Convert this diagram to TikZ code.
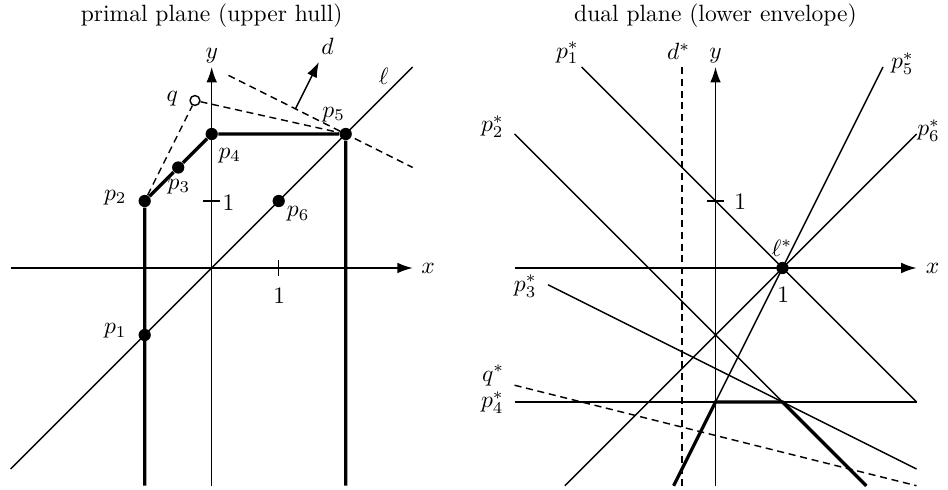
\documentclass[tikz,border=0pt]{standalone}
\usepackage{tikz}
\usetikzlibrary{positioning, arrows.meta}

\begin{document}
\begin{tikzpicture}[
  x=1cm, y=1cm,
  ln/.style={line width=0.6pt},
  hull/.style={line width=1.4pt},
  axis/.style={line width=0.6pt, -{Latex[length=6.5pt, width=4.5pt]}},
  dsh/.style={line width=0.6pt, dash pattern=on 3pt off 2pt},
  dir/.style={line width=0.6pt, -{Latex[length=6.5pt, width=4.5pt]}},
  pt/.style={circle, fill=black, minimum size=5.2pt, inner sep=0pt},
  opt/.style={circle, draw=black, fill=white, line width=0.6pt,
              minimum size=4.2pt, inner sep=0pt},
  lbl/.style={inner sep=0pt},
  ttl/.style={inner sep=0pt, font=\normalsize}]
  \useasboundingbox (-3.16,-3.30) rectangle (10.99,4.00);

  % primal plane
  \node[ttl] (ttlA) at (0,3.77) {primal plane (upper hull)};
  \coordinate (xa) at (-3,0);
  \coordinate (xb) at (3,0);
  \coordinate (ya) at (0,-3.25);
  \coordinate (yb) at (0,3);
  \draw[axis] (xa) -- (xb);
  \draw[axis] (ya) -- (yb);
  \node[lbl] (xlabA) at (3.23,0) {$x$};
  \node[lbl] (ylabA) at (0,3.17) {$y$};
  \draw[ln] (1,0.125) -- (1,-0.125);
  \draw[ln] (-0.125,1) -- (0.125,1);
  \node[lbl] (tkxA) at (1.01,-0.41) {1};
  \node[lbl] (tkyA) at (0.25,0.98) {1};

  \coordinate (la) at (-3,-3);
  \coordinate (lb) at (3,3);
  \draw[ln] (la) -- (lb);
  \node[lbl] (lablA) at (2.57,2.86) {$\ell$};

  \node[pt] (p1) at (-1,-1) {};
  \node[pt] (p2) at (-1,1) {};
  \node[pt] (p3) at (-0.5,1.5) {};
  \node[pt] (p4) at (0,2) {};
  \node[pt] (p5) at (2,2) {};
  \node[pt] (p6) at (1,1) {};
  \node[opt] (q) at (-0.25,2.5) {};

  \coordinate (r2) at (-1,-3.25);
  \coordinate (r5) at (2,-3.25);
  \draw[hull] (r2) -- (p2) -- (p3) -- (p4) -- (p5) -- (r5);

  \coordinate (ha) at (0.25,2.875);
  \coordinate (hb) at (3,1.5);
  \draw[dsh] (ha) -- (hb);
  \draw[dsh] (p2) -- (q);
  \draw[dsh] (q) -- (p5);
  \coordinate (da) at (1.25,2.375);
  \coordinate (db) at (1.6,3.075);
  \draw[dir] (da) -- (db);
  \node[lbl] (labd) at (1.73,3.31) {$d$};

  \node[lbl] (labp1) at (-1.44,-0.94) {$p_1$};
  \node[lbl] (labp2) at (-1.44,1.05) {$p_2$};
  \node[lbl] (labp3) at (-0.49,1.22) {$p_3$};
  \node[lbl] (labp4) at (0.27,1.68) {$p_4$};
  \node[lbl] (labp5) at (1.82,2.29) {$p_5$};
  \node[lbl] (labp6) at (1.29,0.81) {$p_6$};
  \node[lbl] (labq) at (-0.59,2.53) {$q$};

  % dual plane
  \begin{scope}[xshift=7.52cm]
    \node[ttl] (ttlB) at (0,3.77) {dual plane (lower envelope)};
    \coordinate (ua) at (-3,0);
    \coordinate (ub) at (3,0);
    \coordinate (va) at (0,-3.25);
    \coordinate (vb) at (0,3);
    \draw[axis] (ua) -- (ub);
    \draw[axis] (va) -- (vb);
    \node[lbl] (xlabB) at (3.24,0) {$x$};
    \node[lbl] (ylabB) at (0,3.17) {$y$};
    \draw[ln] (-0.125,1) -- (0.125,1);
    \node[lbl] (tkxB) at (1.01,-0.40) {1};
    \node[lbl] (tkyB) at (0.37,0.99) {1};

    \coordinate (s1a) at (-2,3);      \coordinate (s1b) at (3,-2);
    \coordinate (s2a) at (-3,2);      \coordinate (s2b) at (2.25,-3.25);
    \coordinate (s3a) at (-2.5,-0.25); \coordinate (s3b) at (3,-3);
    \coordinate (s4a) at (-3,-2);     \coordinate (s4b) at (3,-2);
    \coordinate (s5a) at (-0.625,-3.25); \coordinate (s5b) at (2.5,3);
    \coordinate (s6a) at (-2.25,-3.25); \coordinate (s6b) at (3,2);
    \coordinate (sqa) at (-3,-1.75);  \coordinate (sqb) at (3,-3.25);
    \coordinate (sda) at (-0.5,3);    \coordinate (sdb) at (-0.5,-3.25);
    \draw[ln] (s1a) -- (s1b);
    \draw[ln] (s2a) -- (s2b);
    \draw[ln] (s3a) -- (s3b);
    \draw[ln] (s4a) -- (s4b);
    \draw[ln] (s5a) -- (s5b);
    \draw[ln] (s6a) -- (s6b);
    \draw[dsh] (sqa) -- (sqb);
    \draw[dsh] (sda) -- (sdb);

    \coordinate (e1) at (0,-2);
    \coordinate (e2) at (1,-2);
    \draw[hull] (s5a) -- (e1) -- (e2) -- (s2b);

    \node[pt] (lst) at (1,0) {};

    \node[lbl] (labs1) at (-2.21,3.21) {$p_1^*$};
    \node[lbl] (labs2) at (-3.33,2.11) {$p_2^*$};
    \node[lbl] (labs3) at (-2.84,-0.27) {$p_3^*$};
    \node[lbl] (labs4) at (-3.33,-2.01) {$p_4^*$};
    \node[lbl] (labs5) at (2.79,3.05) {$p_5^*$};
    \node[lbl] (labs6) at (3.18,2.05) {$p_6^*$};
    \node[lbl] (labsq) at (-3.32,-1.60) {$q^*$};
    \node[lbl] (labsd) at (-0.55,3.23) {$d^*$};
    \node[lbl] (labsl) at (0.99,0.30) {$\ell^*$};
  \end{scope}
\end{tikzpicture}
\end{document}
